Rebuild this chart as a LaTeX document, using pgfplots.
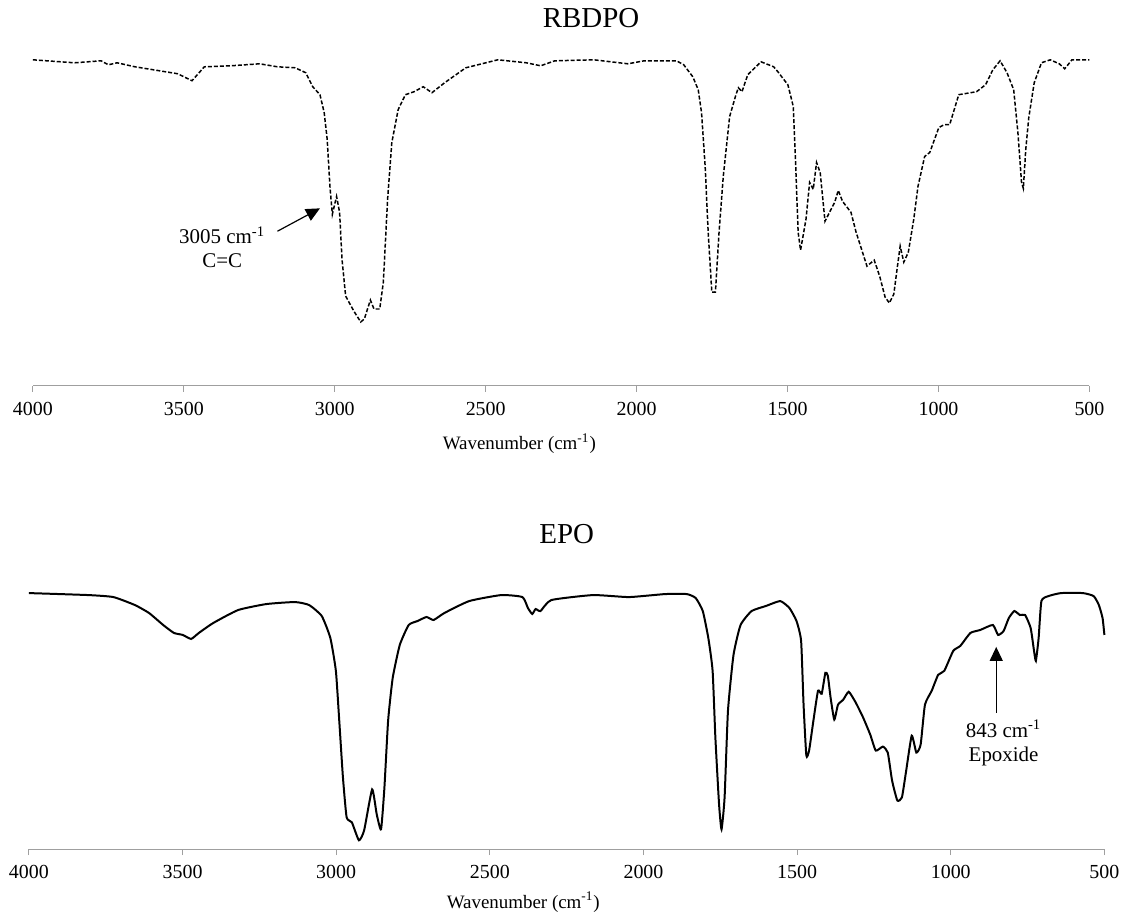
\documentclass[border=0pt]{standalone}
\usepackage{fontspec}
\setmainfont{Liberation Serif}
\usepackage{pgfplots}
\usepackage{pgfplotstable}
\pgfplotsset{compat=1.18}
\usetikzlibrary{arrows.meta}

% wavenumber (cm^-1) vs. relative transmittance (arbitrary units)
\pgfplotstableread{
wn h
4000 327
3862 324
3774 326
3750 322
3721 324
3662 320
3520 313
3473 306
3432 320
3344 321
3249 323
3190 320
3131 319
3096 314
3073 300
3049 292
3035 274
3025 247
3016 200
3008 172
2994 190
2984 174
2976 127
2964 90
2937 75
2914 64
2902 67
2882 86
2870 77
2851 77
2839 104
2825 187
2811 244
2790 277
2766 292
2737 295
2707 300
2678 294
2636 304
2566 319
2460 327
2365 324
2318 321
2271 326
2142 327
2029 323
1975 326
1868 326
1844 322
1814 310
1796 297
1785 274
1773 220
1763 154
1751 94
1739 94
1727 154
1713 210
1692 270
1671 292
1663 299
1651 295
1632 312
1588 325
1546 320
1532 315
1517 309
1499 302
1481 280
1473 220
1465 154
1457 136
1439 167
1427 204
1415 197
1404 224
1392 214
1376 165
1356 177
1344 184
1332 196
1318 185
1290 174
1273 154
1255 137
1237 120
1213 126
1195 110
1177 89
1163 83
1148 92
1136 120
1127 140
1115 124
1100 134
1082 167
1068 200
1046 230
1029 234
999 259
981 262
963 262
933 292
874 295
844 302
820 317
796 326
773 314
751 297
737 254
725 204
719 198
711 237
701 269
683 304
659 324
630 327
600 323
582 318
558 327
500 327
}\rbdpo

\pgfplotstableread{
wn h
4000 257
3806 255
3725 253
3655 245
3609 237
3563 225
3528 217
3499 215
3472 211
3447 217
3400 227
3319 240
3227 246
3134 248
3088 245
3047 234
3019 212
3001 179
2990 129
2978 72
2966 32
2949 27
2926 9
2909 19
2883 60
2868 35
2854 20
2843 62
2831 129
2816 172
2793 205
2764 225
2735 229
2706 233
2683 230
2648 237
2567 249
2463 255
2394 253
2376 242
2362 236
2351 241
2335 239
2300 250
2164 255
2047 253
1930 256
1859 256
1830 252
1807 239
1789 212
1775 179
1766 112
1754 45
1746 20
1736 52
1725 139
1707 195
1684 225
1648 239
1602 244
1555 249
1525 242
1502 229
1487 209
1479 145
1470 94
1461 99
1447 129
1432 159
1420 156
1408 177
1400 174
1391 152
1379 130
1367 145
1350 150
1332 158
1309 147
1285 132
1262 115
1244 99
1221 103
1205 97
1191 69
1174 49
1159 52
1145 79
1127 114
1112 97
1098 105
1084 145
1062 159
1041 175
1021 179
992 199
969 204
936 217
904 220
863 225
846 215
828 219
811 232
793 239
775 235
758 235
740 222
729 199
723 189
714 212
705 249
682 254
641 257
570 257
535 254
518 245
506 232
500 215
}\epo

\pgfplotsset{
    ftir/.style={
        scale only axis,
        x dir=reverse,
        xmin=500, xmax=4000,
        xtick={500,1000,...,4000},
        ymin=0,
        axis x line*=bottom,
        axis y line=none,
        axis line style={draw=gray!75, line width=0.6pt, -},
        tick align=outside,
        major tick length=3pt,
        every tick/.style={draw=gray!75, line width=0.6pt},
        tick label style={font=\fontsize{10}{12}\selectfont, yshift=-1.5pt},
        /pgf/number format/1000 sep={},
        /pgf/number format/assume math mode=true,
        xlabel={Wavenumber (cm\textsuperscript{-1})},
        xlabel style={font=\fontsize{9.5}{11}\selectfont, at={(0.5,0)}, anchor=center},
        title style={font=\fontsize{14.5}{17}\selectfont, at={(0.5,1)}, anchor=center},
        clip=false,
    },
}

\begin{document}
\begin{tikzpicture}
\path (0,0) rectangle (563pt,-458.5pt);

\begin{axis}[
    ftir,
    width=530pt, height=167.5pt,
    at={(281.5pt,-193.5pt)}, anchor=south,
    ymax=335,
    title={RBDPO},
    title style={yshift=11pt, xshift=15pt},
    xlabel style={yshift=-29pt, xshift=-21pt},
]
\addplot[black, line width=0.75pt, dash pattern=on 2pt off 1pt] table[x=wn, y=h] {\rbdpo};
\draw[line width=0.6pt, -{Triangle[length=7pt, width=6.5pt]}] (axis cs:3190,155) -- (axis cs:3049,178);
\node[font=\fontsize{10.5}{12}\selectfont, align=center] at (axis cs:3373,139) {3005 cm\textsuperscript{-1}\\C=C};
\end{axis}

\begin{axis}[
    ftir,
    width=539.5pt, height=132.5pt,
    at={(284.25pt,-426pt)}, anchor=south,
    ymax=265,
    title={EPO},
    title style={yshift=19.5pt},
    xlabel style={yshift=-26.5pt, xshift=-21.75pt},
]
\addplot[black, line width=1pt, smooth, tension=0.3] table[x=wn, y=h] {\epo};
\draw[line width=0.6pt, -{Triangle[length=7pt, width=6.5pt]}] (axis cs:852,137) -- (axis cs:852,203);
\node[font=\fontsize{10.5}{12}\selectfont, align=center] at (axis cs:828,107) {843 cm\textsuperscript{-1}\\Epoxide};
\end{axis}
\end{tikzpicture}
\end{document}
